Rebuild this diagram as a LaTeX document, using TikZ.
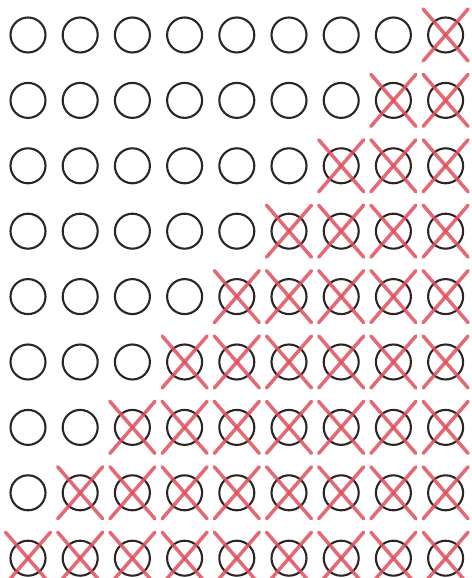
\documentclass[tikz,border=0pt]{standalone}
\usepackage{xcolor}
\usepackage{tikz}
\usetikzlibrary{calc}
\definecolor{RingDark}{HTML}{2E2424}
\definecolor{CrossRed}{HTML}{DE4F5C}

\begin{document}
\begin{tikzpicture}[
    ring/.style={circle, draw=RingDark, line width=0.6pt, minimum size=3.5mm, inner sep=0pt},
    crossline/.style={CrossRed, line width=1pt, opacity=0.85, line cap=round}]
    \useasboundingbox (0,0) rectangle (4.71,5.78);
    \foreach \r in {1,...,9} {
      \foreach \c in {1,...,9} {
        \node[ring] (n\r\c) at ({0.28+0.522*(\c-1)}, {5.43-0.654*(\r-1)}) {};
        \pgfmathtruncatemacro{\firstx}{10-\r}
        \ifnum\c<\firstx\else
          \draw[crossline] ($(n\r\c)+(-0.225,0.26)$) -- ($(n\r\c)+(0.225,-0.26)$);
          \draw[crossline] ($(n\r\c)+(-0.225,-0.26)$) -- ($(n\r\c)+(0.225,0.26)$);
        \fi
      }
    }
  \end{tikzpicture}
\end{document}
